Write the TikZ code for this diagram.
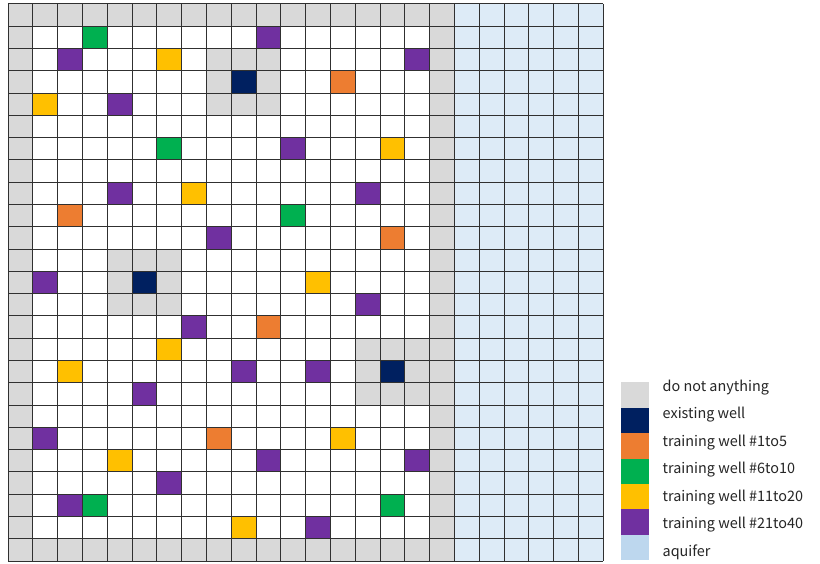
\documentclass[tikz,border=0pt]{standalone}
\usepackage{fontspec}
\setmainfont{Noto Sans CJK KR}
\definecolor{cgrey}{HTML}{D9D9D9}
\definecolor{cnavy}{HTML}{002060}
\definecolor{corange}{HTML}{ED7D31}
\definecolor{cgreen}{HTML}{00B050}
\definecolor{cyellow}{HTML}{FFC000}
\definecolor{cpurple}{HTML}{7030A0}
\definecolor{caqua}{HTML}{DDEBF7}
\definecolor{caqleg}{HTML}{BDD7EE}
\definecolor{cline}{HTML}{303030}
\begin{document}
\begin{tikzpicture}[x=1pt,y=-1pt,
  gridline/.style={draw=cline,line width=1pt},
  legtext/.style={anchor=west,inner sep=0pt,font=\fontsize{14.4}{16}\selectfont,text=black!85}]
\useasboundingbox[fill=white] (0,0) rectangle (820,564);
\def\cw{24.8}\def\ch{22.28}
\newcommand\cellfill[3]{\fill[#3] ({8+\cw*#2},{4+\ch*#1}) rectangle ++(\cw,\ch);}
% base fills
\fill[cgrey] (8,4) rectangle ({8+18*\cw},{4+25*\ch});
\fill[white] ({8+\cw},{4+\ch}) rectangle ({8+17*\cw},{4+24*\ch});
\fill[caqua] ({8+18*\cw},4) rectangle ({8+24*\cw},{4+25*\ch});
% grey blocks around existing wells
\foreach \r/\c in {3/9,12/5,16/15}{
  \fill[cgrey] ({8+\cw*(\c-1)},{4+\ch*(\r-1)}) rectangle ++({3*\cw},{3*\ch});
}
% existing wells
\foreach \r/\c in {3/9,12/5,16/15}{\cellfill{\r}{\c}{cnavy}}
% orange
\foreach \r/\c in {3/13,9/2,10/15,14/10,19/8}{\cellfill{\r}{\c}{corange}}
% green
\foreach \r/\c in {1/3,6/6,9/11,22/3,22/15}{\cellfill{\r}{\c}{cgreen}}
% yellow
\foreach \r/\c in {2/6,4/1,6/15,8/7,12/12,15/6,16/2,19/13,20/4,23/9}{\cellfill{\r}{\c}{cyellow}}
% purple
\foreach \r/\c in {1/10,2/2,2/16,4/4,6/11,8/4,8/14,10/8,12/1,13/14,14/7,16/9,16/12,17/5,19/1,20/10,20/16,21/6,22/2,23/12}{\cellfill{\r}{\c}{cpurple}}
% grid lines
\foreach \i in {0,...,24}{\draw[gridline] ({8+\cw*\i},4) -- ({8+\cw*\i},{4+25*\ch});}
\foreach \j in {0,...,25}{\draw[gridline] (8,{4+\ch*\j}) -- ({8+24*\cw},{4+\ch*\j});}
% legend
\foreach \k/\col/\txt [count=\n from 0] in {
  0/cgrey/do not anything,
  1/cnavy/existing well,
  2/corange/training well \#1to5,
  3/cgreen/training well \#6to10,
  4/cyellow/training well \#11to20,
  5/cpurple/training well \#21to40,
  6/caqleg/aquifer}{
  \fill[\col] (621,{382.3+25.4*\k}) rectangle (649.3,{382.3+25.4*(\k+1)});
  \node[legtext] (leg\n) at (662.5,{387.5+27.4*\k}) {\txt};
}
\end{tikzpicture}
\end{document}
